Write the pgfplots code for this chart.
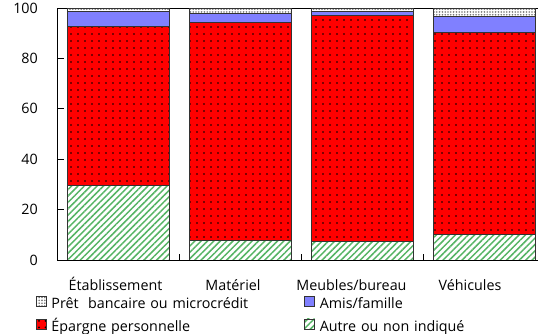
\documentclass[border=0pt]{standalone}
\usepackage{fontspec}
\setmainfont{Open Sans}
\usepackage{pgfplots}
\pgfplotsset{compat=1.18}
\usetikzlibrary{patterns,patterns.meta}
\definecolor{cRed}{RGB}{255,0,0}
\definecolor{cBlue}{RGB}{128,128,255}
\definecolor{cGreen}{RGB}{85,180,100}
\definecolor{cGray}{RGB}{120,120,120}
\tikzset{
  sAutre/.style={draw=black!80, fill=white, postaction={pattern={Lines[angle=45,distance=4.5pt,line width=1.5pt]}, pattern color=cGreen}},
  sEpargne/.style={draw=black!80, fill=cRed, postaction={pattern={Dots[radius=1pt,distance=6.5pt]}, pattern color=black}},
  sAmis/.style={draw=black!80, fill=cBlue},
  sPret/.style={draw=black!80, fill=white, postaction={pattern={Dots[radius=0.9pt,distance=2.8pt]}, pattern color=cGray}},
}
\pgfplotsset{my legend/.style={legend image code/.code={\draw[##1, line width=0.4pt] (0pt,-1pt) rectangle (10pt,9pt);}}}
\begin{document}
\begin{tikzpicture}
\useasboundingbox (0,0) rectangle (538pt,334pt);
\clip (0,0) rectangle (538pt,334pt);
\begin{axis}[
  at={(57.5pt,74pt)}, anchor=south west,
  scale only axis, width=487.5pt, height=252pt,
  xmin=-0.5, xmax=3.5, ymin=0, ymax=100,
  ybar stacked, bar width=102pt, bar shift=0pt,
  ytick={0,20,40,60,80,100}, ytick pos=left,
  xtick={0.5,1.5,2.5}, xticklabels={}, xtick pos=bottom,
  extra x ticks={-0.024,0.94,1.912,2.885},
  extra x tick labels={Établissement,Matériel,Meubles/bureau,Véhicules},
  extra x tick style={major tick length=0pt},
  tick align=inside, major tick length=6pt,
  tick style={black, line width=0.6pt},
  axis line style={black, line width=0.8pt},
  ticklabel style={font=\fontsize{14.3}{16}\selectfont, /pgf/number format/assume math mode=true},
  yticklabel style={inner sep=0pt, xshift=-19.5pt},
  xticklabel style={anchor=base, yshift=-31pt},
  legend columns=2,
  legend style={at={(axis description cs:-0.0441,-0.1429)}, anchor=north west,
    draw=none, fill=none, inner sep=0pt, outer sep=0pt, row sep=7pt, column sep=0pt,
    font=\fontsize{14.3}{16}\selectfont,
    nodes={inner sep=0pt, text width=253pt, align=left, text height=10pt, text depth=3pt},
    /tikz/every odd column/.style={column sep=5pt}},
]
\addplot[sAutre, line width=0.6pt, forget plot] coordinates {(0,29.6) (1,7.7) (2,7.3) (3,10.2)};
\addplot[sEpargne, line width=0.6pt, forget plot] coordinates {(0,63.0) (1,86.5) (2,89.8) (3,80.1)};
\addplot[sAmis, line width=0.6pt, forget plot] coordinates {(0,6.1) (1,3.5) (2,1.5) (3,6.5)};
\addplot[sPret, line width=0.6pt, forget plot] coordinates {(0,1.3) (1,2.3) (2,1.4) (3,3.2)};
\addlegendimage{sPret, my legend}
\addlegendentry{Prêt\ \ bancaire ou microcrédit}
\addlegendimage{sAmis, my legend}
\addlegendentry{Amis/famille}
\addlegendimage{sEpargne, my legend}
\addlegendentry{Épargne personnelle}
\addlegendimage{sAutre, my legend}
\addlegendentry{Autre ou non indiqué}
\end{axis}
\end{tikzpicture}
\end{document}
